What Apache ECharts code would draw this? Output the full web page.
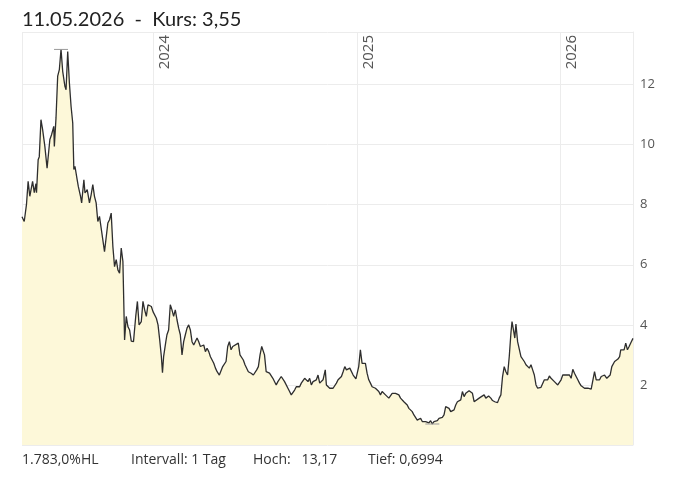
<!DOCTYPE html>
<html>
<head>
<meta charset="utf-8">
<title>Kurs</title>
<script src="https://cdn.jsdelivr.net/npm/echarts@6/dist/echarts.min.js"></script>
<style>
  html, body { margin: 0; padding: 0; background: #fff; }
  #chart { width: 680px; height: 479px; }
</style>
</head>
<body>
<div id="chart"></div>
<script>
// Handelstage (Auswahl) und Schlusskurse
var datum = [
  "2023-05-11","2023-05-15","2023-05-19","2023-05-22","2023-05-25","2023-05-30","2023-06-02","2023-06-05","2023-06-06","2023-06-09",
  "2023-06-11","2023-06-14","2023-06-17","2023-06-21","2023-06-25","2023-06-27","2023-06-30","2023-07-03","2023-07-07","2023-07-08",
  "2023-07-11","2023-07-14","2023-07-17","2023-07-20","2023-07-23","2023-07-27","2023-07-29","2023-08-01","2023-08-04","2023-08-07",
  "2023-08-10","2023-08-12","2023-08-14","2023-08-18","2023-08-20","2023-08-24","2023-08-26","2023-08-30","2023-09-01","2023-09-05",
  "2023-09-09","2023-09-12","2023-09-15","2023-09-18","2023-09-21","2023-09-24","2023-09-27","2023-09-30","2023-10-03","2023-10-06",
  "2023-10-09","2023-10-12","2023-10-15","2023-10-18","2023-10-21","2023-10-24","2023-10-27","2023-10-30","2023-11-02","2023-11-05",
  "2023-11-08","2023-11-11","2023-11-14","2023-11-17","2023-11-20","2023-11-23","2023-11-27","2023-12-01","2023-12-04","2023-12-07",
  "2023-12-11","2023-12-14","2023-12-17","2023-12-20","2023-12-23","2023-12-26","2023-12-29","2024-01-01","2024-01-04","2024-01-07",
  "2024-01-10","2024-01-13","2024-01-16","2024-01-18","2024-01-20","2024-01-24","2024-01-26","2024-01-29","2024-02-01","2024-02-04",
  "2024-02-07","2024-02-10","2024-02-13","2024-02-16","2024-02-19","2024-02-22","2024-02-25","2024-02-28","2024-03-02","2024-03-05",
  "2024-03-08","2024-03-11","2024-03-14","2024-03-17","2024-03-20","2024-03-23","2024-03-26","2024-03-29","2024-04-01","2024-04-04",
  "2024-04-07","2024-04-10","2024-04-13","2024-04-16","2024-04-19","2024-04-22","2024-04-25","2024-04-29","2024-05-02","2024-05-05",
  "2024-05-08","2024-05-11","2024-05-14","2024-05-17","2024-05-20","2024-05-23","2024-05-26","2024-06-02","2024-06-05","2024-06-08",
  "2024-06-11","2024-06-14","2024-06-17","2024-06-20","2024-06-25","2024-06-29","2024-07-02","2024-07-05","2024-07-08","2024-07-11",
  "2024-07-14","2024-07-16","2024-07-19","2024-07-22","2024-07-25","2024-07-28","2024-07-31","2024-08-03","2024-08-06","2024-08-09",
  "2024-08-12","2024-08-15","2024-08-18","2024-08-21","2024-08-24","2024-08-27","2024-08-30","2024-09-02","2024-09-05","2024-09-08",
  "2024-09-11","2024-09-14","2024-09-17","2024-09-20","2024-09-23","2024-09-26","2024-09-29","2024-10-02","2024-10-05","2024-10-08",
  "2024-10-11","2024-10-14","2024-10-17","2024-10-20","2024-10-23","2024-10-26","2024-10-29","2024-11-01","2024-11-05","2024-11-07",
  "2024-11-10","2024-11-13","2024-11-16","2024-11-19","2024-11-22","2024-11-25","2024-11-28","2024-12-01","2024-12-04","2024-12-07",
  "2024-12-10","2024-12-13","2024-12-16","2024-12-19","2024-12-22","2024-12-25","2024-12-28","2024-12-30","2025-01-04","2025-01-07",
  "2025-01-10","2025-01-13","2025-01-16","2025-01-19","2025-01-22","2025-01-25","2025-01-28","2025-01-31","2025-02-03","2025-02-06",
  "2025-02-09","2025-02-12","2025-02-15","2025-02-18","2025-02-21","2025-02-24","2025-02-27","2025-03-02","2025-03-05","2025-03-08",
  "2025-03-11","2025-03-14","2025-03-17","2025-03-20","2025-03-23","2025-03-26","2025-03-29","2025-04-01","2025-04-04","2025-04-07",
  "2025-04-10","2025-04-13","2025-04-16","2025-04-19","2025-04-22","2025-04-25","2025-04-28","2025-05-01","2025-05-04","2025-05-07",
  "2025-05-10","2025-05-13","2025-05-16","2025-05-19","2025-05-22","2025-05-25","2025-05-28","2025-05-31","2025-06-03","2025-06-06",
  "2025-06-09","2025-06-12","2025-06-15","2025-06-18","2025-06-21","2025-06-24","2025-06-27","2025-06-30","2025-07-03","2025-07-06",
  "2025-07-09","2025-07-12","2025-07-15","2025-07-18","2025-07-21","2025-07-24","2025-07-27","2025-07-30","2025-08-02","2025-08-08",
  "2025-08-12","2025-08-17","2025-08-20","2025-08-25","2025-08-29","2025-09-01","2025-09-05","2025-09-10","2025-09-13","2025-09-16",
  "2025-09-19","2025-09-22","2025-09-25","2025-09-28","2025-10-01","2025-10-04","2025-10-06","2025-10-09","2025-10-11","2025-10-13",
  "2025-10-16","2025-10-19","2025-10-22","2025-10-25","2025-10-28","2025-10-31","2025-11-03","2025-11-06","2025-11-09","2025-11-12",
  "2025-11-15","2025-11-18","2025-11-21","2025-11-24","2025-11-27","2025-11-30","2025-12-03","2025-12-06","2025-12-09","2025-12-12",
  "2025-12-15","2025-12-18","2025-12-21","2025-12-24","2025-12-27","2025-12-30","2026-01-02","2026-01-05","2026-01-08","2026-01-11",
  "2026-01-14","2026-01-17","2026-01-20","2026-01-23","2026-01-26","2026-01-29","2026-02-01","2026-02-04","2026-02-07","2026-02-10",
  "2026-02-13","2026-02-16","2026-02-19","2026-02-22","2026-02-25","2026-02-28","2026-03-03","2026-03-06","2026-03-09","2026-03-12",
  "2026-03-15","2026-03-18","2026-03-21","2026-03-25","2026-03-28","2026-03-31","2026-04-03","2026-04-05","2026-04-08","2026-04-11",
  "2026-04-14","2026-04-17","2026-04-19","2026-04-22","2026-04-25","2026-04-28","2026-05-01","2026-05-04","2026-05-06","2026-05-08",
  "2026-05-11"
];

var kurs = [
  7.6, 7.44, 8.0, 8.78, 8.28, 8.78, 8.4, 8.7, 8.4, 9.5,
  9.6, 10.83, 10.5, 9.94, 9.22, 9.17, 10.17, 10.33, 10.61, 9.94,
  10.89, 12.28, 12.5, 13.17, 12.44, 11.94, 11.83, 13.1, 12.06, 11.28,
  10.72, 9.17, 9.28, 8.83, 8.61, 8.28, 8.06, 8.83, 8.39, 8.5,
  8.06, 8.33, 8.67, 8.28, 8.06, 7.44, 7.61, 7.61, 6.83, 6.44,
  6.44, 7.39, 7.5, 7.72, 6.61, 5.94, 6.17, 5.83, 5.72, 6.56,
  6.11, 3.5, 4.28, 3.94, 3.83, 3.46, 3.44, 4.28, 4.78, 4.0,
  4.11, 4.78, 4.5, 4.28, 4.67, 4.72, 4.61, 4.44, 4.39, 4.22,
  4.0, 3.5, 2.94, 2.41, 2.94, 3.44, 3.67, 3.83, 4.67, 4.5,
  4.28, 4.5, 4.17, 3.89, 3.67, 3.0, 3.44, 3.67, 3.89, 4.0,
  3.83, 3.44, 3.33, 3.28, 3.56, 3.44, 3.28, 3.22, 3.33, 3.11,
  3.22, 3.11, 2.94, 2.83, 2.72, 2.56, 2.44, 2.33, 2.33, 2.61,
  2.56, 2.78, 3.28, 3.44, 3.17, 3.28, 3.22, 3.39, 3.0, 2.94,
  2.83, 2.67, 2.61, 2.44, 2.39, 2.33, 2.28, 2.5, 2.61, 3.0,
  3.28, 3.33, 3.0, 2.44, 2.5, 2.39, 2.44, 2.22, 2.17, 2.0,
  2.11, 2.17, 2.28, 2.22, 2.11, 2.06, 1.89, 1.78, 1.67, 1.61,
  1.83, 1.94, 2.0, 1.94, 2.06, 2.0, 2.22, 2.17, 2.11, 2.22,
  2.0, 2.11, 2.06, 2.17, 2.33, 2.06, 2.11, 2.17, 2.5, 2.0,
  1.94, 1.89, 1.94, 1.89, 1.89, 2.06, 2.17, 2.11, 2.28, 2.44,
  2.61, 2.5, 2.44, 2.56, 2.5, 2.33, 2.28, 2.2, 2.61, 3.17,
  2.72, 2.78, 2.72, 2.39, 2.17, 2.06, 1.94, 1.89, 1.89, 1.89,
  1.78, 1.67, 1.78, 1.72, 1.67, 1.67, 1.56, 1.5, 1.72, 1.78,
  1.72, 1.67, 1.67, 1.56, 1.5, 1.44, 1.39, 1.33, 1.22, 1.17,
  1.11, 1.0, 0.94, 0.83, 0.81, 0.89, 0.78, 0.83, 0.78, 0.83,
  0.74, 0.81, 0.6994, 0.78, 0.74, 0.81, 0.89, 0.83, 0.92, 1.0,
  1.28, 1.33, 1.22, 1.11, 1.11, 1.17, 1.33, 1.44, 1.39, 1.5,
  1.78, 1.61, 1.72, 1.78, 1.81, 1.78, 1.72, 1.44, 1.5, 1.56,
  1.61, 1.67, 1.56, 1.63, 1.56, 1.48, 1.44, 1.41, 1.56, 1.67,
  2.28, 2.61, 2.44, 2.33, 2.94, 3.72, 4.11, 3.78, 3.56, 4.03,
  3.44, 3.39, 2.94, 2.89, 2.78, 2.67, 2.61, 2.56, 2.67, 2.5,
  2.33, 2.0, 1.89, 1.94, 1.92, 1.94, 2.17, 2.22, 2.17, 2.3,
  2.22, 2.28, 2.11, 2.06, 2.0, 1.94, 2.17, 2.33, 2.28, 2.33,
  2.28, 2.33, 2.22, 2.52, 2.39, 2.44, 2.17, 2.06, 1.97, 1.94,
  1.89, 1.86, 1.89, 1.83, 1.86, 1.81, 2.44, 2.17, 2.22, 2.17,
  2.28, 2.22, 2.33, 2.22, 2.19, 2.33, 2.61, 2.67, 2.78, 2.72,
  2.86, 2.94, 3.17, 3.11, 3.17, 3.39, 3.17, 3.28, 3.22, 3.44,
  3.55
];

var yTicks = [2, 4, 6, 8, 10, 12];

var punkte = datum.map(function (d, i) { return [d, kurs[i]]; });

var hoch = Math.max.apply(null, kurs);
var tief = Math.min.apply(null, kurs);
var letzter = kurs[kurs.length - 1];
var letztesDatum = datum[datum.length - 1].split("-").reverse().join(".");

function de(v, n) {
  return v.toLocaleString("de-DE", { minimumFractionDigits: n, maximumFractionDigits: n });
}

var hl = (hoch - tief) / tief * 100;

var myChart = echarts.init(document.getElementById("chart"));

var fuss = { fontFamily: "Open Sans", fontSize: 14, fontWeight: "normal", color: "#333" };

var option = {
  animation: false,
  backgroundColor: "#fff",
  title: [
    {
      text: letztesDatum + "  -  Kurs: " + de(letzter, 2),
      left: 17, top: 5,
      textStyle: { fontFamily: "Lato", fontSize: 20, fontWeight: "normal", color: "#222" }
    },
    { text: de(hl, 1) + "%HL", left: 17, top: 448, textStyle: fuss },
    { text: "Intervall: 1 Tag", left: 126, top: 448, textStyle: fuss },
    { text: "Hoch:   " + de(hoch, 2), left: 248, top: 448, textStyle: fuss },
    { text: "Tief: " + de(tief, 4), left: 363, top: 448, textStyle: fuss }
  ],
  grid: { left: 22, right: 47, top: 32, bottom: 34 },
  xAxis: {
    type: "time",
    position: "top",
    min: datum[0],
    max: datum[datum.length - 1],
    splitNumber: 3,
    axisLine: { show: false },
    axisTick: { show: false },
    axisLabel: {
      inside: true,
      rotate: 90,
      align: "right",
      verticalAlign: "top",
      margin: 3,
      padding: [4, 0, 0, 0],
      fontFamily: "Open Sans",
      fontSize: 15,
      color: "#555",
      showMinLabel: false,
      showMaxLabel: false,
      formatter: "{yyyy}"
    },
    splitLine: { show: true, lineStyle: { color: "#ececec", width: 1 } }
  },
  yAxis: {
    type: "value",
    position: "right",
    min: 0,
    max: 13.75,
    interval: 2,
    axisLine: { show: true, lineStyle: { color: "#ececec" } },
    axisTick: { show: false },
    axisLabel: {
      margin: 7,
      fontFamily: "Open Sans",
      fontSize: 13,
      color: "#555",
      formatter: function (v) { return yTicks.indexOf(v) >= 0 ? String(v) : ""; }
    },
    splitLine: { show: true, lineStyle: { color: "#ececec", width: 1 } }
  },
  series: [
    {
      type: "line",
      data: punkte,
      showSymbol: false,
      symbol: "none",
      lineStyle: { color: "#2e2e2e", width: 1.3 },
      areaStyle: { color: "#fdf8d9", opacity: 1 },
      markPoint: {
        symbol: "rect",
        symbolSize: [14, 1],
        silent: true,
        label: { show: false },
        itemStyle: { color: "#999" },
        data: [{ type: "max" }, { type: "min" }]
      }
    }
  ]
};

myChart.setOption(option);
window.addEventListener("resize", function () {
  myChart.resize();
});
</script>
</body>
</html>
